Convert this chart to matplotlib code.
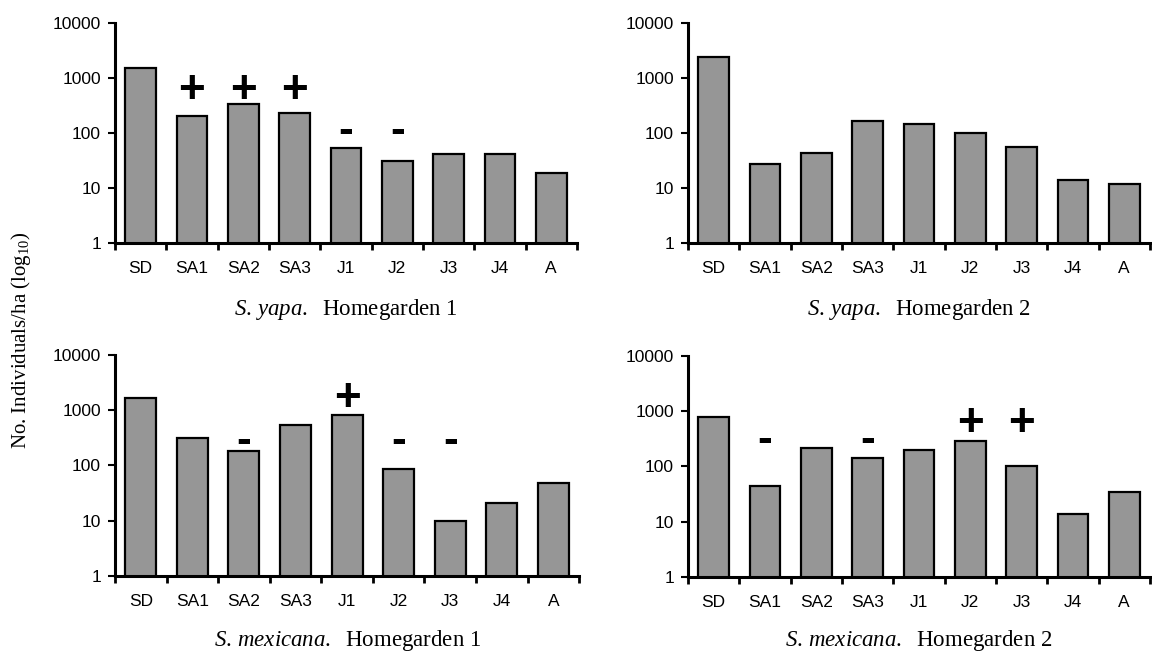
import numpy as np
import matplotlib
matplotlib.use("Agg")
import matplotlib.pyplot as plt
from matplotlib.ticker import NullLocator

plt.rcParams['font.family'] = ['Liberation Sans', 'DejaVu Sans']
plt.rcParams['mathtext.fontset'] = 'custom'
plt.rcParams['mathtext.rm'] = 'Liberation Serif'
plt.rcParams['mathtext.it'] = 'Liberation Serif:italic'

stages = ["SD", "SA1", "SA2", "SA3", "J1", "J2", "J3", "J4", "A"]

# individuals per hectare by stage
yapa_hg1 = [1500, 200, 340, 235, 53, 31, 42, 42, 19]
yapa_hg2 = [2400, 27, 43, 167, 144, 100, 56, 14, 12]
mex_hg1 = [1630, 316, 182, 537, 805, 86, 10, 21, 48]
mex_hg2 = [795, 44, 213, 143, 200, 285, 100, 14, 35]

# significance marks (+ above / - below expected)
yapa_hg1_sig = ["", "+", "+", "+", "-", "-", "", "", ""]
yapa_hg2_sig = [""] * 9
mex_hg1_sig = ["", "", "-", "", "+", "-", "-", "", ""]
mex_hg2_sig = ["", "-", "", "-", "", "+", "+", "", ""]

# heights where the marks sit (plus, minus)
yapa_hg1_lvl = (570, 108)
yapa_hg2_lvl = (570, 108)
mex_hg1_lvl = (1600, 270)
mex_hg2_lvl = (590, 300)

titles = [r"$\mathit{S.\,yapa.}$  Homegarden 1",
          r"$\mathit{S.\,yapa.}$  Homegarden 2",
          r"$\mathit{S.\,mexicana.}$  Homegarden 1",
          r"$\mathit{S.\,mexicana.}$  Homegarden 2"]

panels = [
    (yapa_hg1, yapa_hg1_sig, yapa_hg1_lvl, [0.0998, 0.6284, 0.401, 0.3364], 0.527),
    (yapa_hg2, yapa_hg2_sig, yapa_hg2_lvl, [0.5972, 0.6284, 0.401, 0.3364], 0.527),
    (mex_hg1, mex_hg1_sig, mex_hg1_lvl, [0.0998, 0.1193, 0.403, 0.3380], 0.020),
    (mex_hg2, mex_hg2_sig, mex_hg2_lvl, [0.5972, 0.1177, 0.401, 0.3380], 0.020),
]

fig = plt.figure(figsize=(11.52, 6.54), dpi=100)

x = np.arange(len(stages))
for (vals, sig, lvl, rect, ty), title in zip(panels, titles):
    ax = fig.add_axes(rect)
    ax.bar(x, vals, width=0.6, color="#969696", edgecolor="black", linewidth=1.6)
    ax.set_yscale("log")
    ax.set_ylim(1, 10000)
    ax.set_xlim(-0.5, len(stages) - 0.5)
    ax.set_yticks([1, 10, 100, 1000, 10000], ["1", "10", "100", "1000", "10000"])
    ax.yaxis.set_minor_locator(NullLocator())
    ax.set_xticks(x, stages)
    ax.set_xticks(np.arange(-0.5, len(stages)), minor=True)
    ax.tick_params(axis="x", which="major", length=0, pad=13, labelsize=12.5)
    ax.tick_params(axis="x", which="minor", length=5, width=2, direction="out")
    ax.tick_params(axis="y", length=5, width=1.5, pad=5, labelsize=12.5)
    for s in ["top", "right"]:
        ax.spines[s].set_visible(False)
    for s in ["left", "bottom"]:
        ax.spines[s].set_linewidth(2.2)

    for i, m in enumerate(sig):
        if m == "+":
            ax.text(i, lvl[0], "+", ha="center", va="center", fontsize=33,
                    fontweight="bold")
        elif m == "-":
            ax.text(i, lvl[1], "-", ha="center", va="center", fontsize=32,
                    fontweight="bold")

    fig.text(rect[0] + rect[2] / 2, ty, title, ha="center", va="center",
             fontsize=16.5, family="Liberation Serif")

fig.text(0.018, 0.48, r"No. Individuals/ha (log$_{10}$)", rotation=90,
         ha="center", va="center", fontsize=15, family="Liberation Serif")

fig.savefig("out.png", dpi=100)
